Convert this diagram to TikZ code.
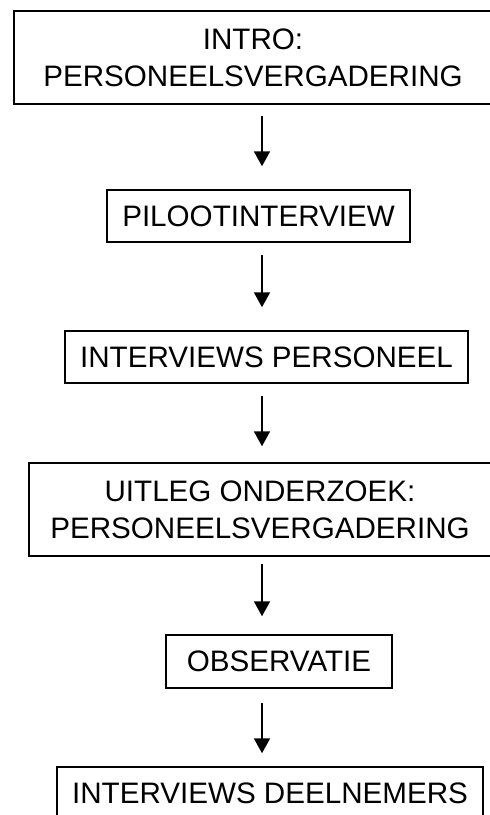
\documentclass[tikz,border=0pt]{standalone}
\usepackage{fontspec}
\setmainfont{Liberation Sans}
\usetikzlibrary{arrows.meta}
\begin{document}
\begin{tikzpicture}[x=1pt,y=-1pt,
  every node/.style={draw,line width=1.5pt,align=center,inner sep=0pt,font=\fontsize{29.6}{37}\selectfont},
  arr/.style={line width=2pt,-{Triangle[length=15pt,width=16pt]}}]
  \useasboundingbox (0,0) rectangle (490,815);
  \coordinate (col) at (262,0);
  % Step 1
  \node (intro) [minimum width=478pt,minimum height=93pt] at (253,57.5) {INTRO:\\PERSONEELSVERGADERING};
  % Step 2
  \node (piloot) [minimum width=303pt,minimum height=52pt] at (258.5,216) {PILOOTINTERVIEW};
  % Step 3
  \node (perso) [minimum width=403pt,minimum height=52pt] at (266.5,357) {INTERVIEWS PERSONEEL};
  % Step 4
  \node (uitleg) [minimum width=462pt,minimum height=93pt] at (260,509.5) {UITLEG ONDERZOEK:\\PERSONEELSVERGADERING};
  % Step 5
  \node (obs) [minimum width=226pt,minimum height=53pt] at (279,661.5) {OBSERVATIE};
  % Step 6
  \node (deeln) [minimum width=426pt,minimum height=53pt] at (270,793.5) {INTERVIEWS DEELNEMERS};
  % Arrows
  \draw[arr] ([yshift=-11pt]intro.south -| col) -- ([yshift=23pt]piloot.north -| col);
  \draw[arr] ([yshift=-12pt]piloot.south -| col) -- ([yshift=23pt]perso.north -| col);
  \draw[arr] ([yshift=-12pt]perso.south -| col) -- ([yshift=16pt]uitleg.north -| col);
  \draw[arr] ([yshift=-7pt]uitleg.south -| col) -- ([yshift=18pt]obs.north -| col);
  \draw[arr] ([yshift=-14pt]obs.south -| col) -- ([yshift=13pt]deeln.north -| col);
\end{tikzpicture}
\end{document}
